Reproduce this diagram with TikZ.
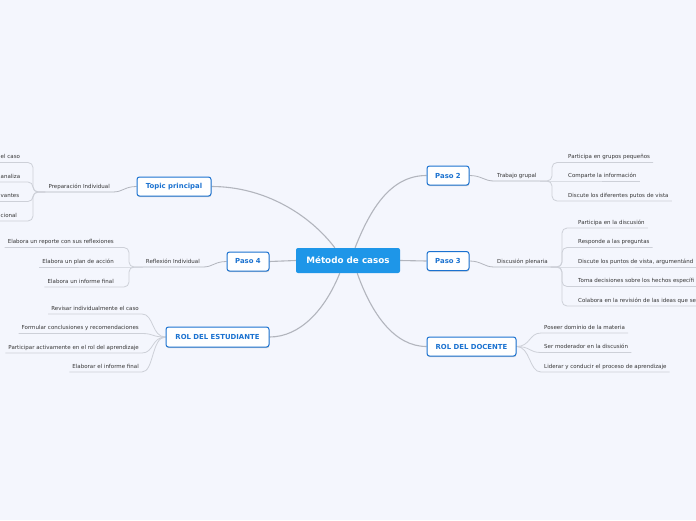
\documentclass[tikz,border=0pt]{standalone}
\usepackage{fontspec}
\setmainfont{DejaVu Sans}
\usetikzlibrary{shadows}
\pgfdeclarelayer{background}
\pgfsetlayers{background,main}
\definecolor{bg}{HTML}{F4F6FD}
\definecolor{cblue}{HTML}{1E96E8}
\definecolor{nblue}{HTML}{1B72D0}
\definecolor{conn}{HTML}{B2B5BD}
\definecolor{uline}{HTML}{CDD0D8}
\definecolor{ltext}{HTML}{363636}
\begin{document}
\begin{tikzpicture}[x=1pt,y=-1pt,
 central/.style={fill=cblue, rounded corners=2pt, text=white, font=\fontsize{8.8}{10}\selectfont\bfseries, minimum width=104pt, minimum height=25pt, inner sep=0pt},
 mainnode/.style={fill=white, draw=nblue, line width=1pt, rounded corners=2.5pt, text=nblue, font=\fontsize{6.9}{8}\selectfont\bfseries, minimum height=19pt, inner sep=0pt, drop shadow={shadow xshift=0.3pt, shadow yshift=-1.2pt, fill=black!40, opacity=0.45}},
 leaf/.style={font=\fontsize{5.5}{6.5}\selectfont, text=ltext, inner xsep=3pt, inner ysep=2.5pt, text height=4.2pt, text depth=1.3pt},
 mconn/.style={draw=conn, line width=1.1pt},
 sconn/.style={draw=conn, line width=0.8pt},
 uconn/.style={draw=uline, line width=0.8pt, rounded corners=5pt},
 cconn/.style={draw=uline, line width=0.8pt},
]
\begin{pgfonlayer}{background}
\fill[bg] (0,0) rectangle (696,520);
\end{pgfonlayer}
\useasboundingbox (0,0) rectangle (696,520);

% central and main nodes
\node[central] (c) at (348,260.5) {Método de casos};
\node[mainnode, minimum width=74pt] (tp) at (174,186.5) {Topic principal};
\node[mainnode, minimum width=42pt] (p4) at (248,261.5) {Paso 4};
\node[mainnode, minimum width=103pt, minimum height=20pt] (est) at (217.5,337) {ROL DEL ESTUDIANTE};
\node[mainnode, minimum width=42pt] (p2) at (448,175.5) {Paso 2};
\node[mainnode, minimum width=42pt] (p3) at (448,261) {Paso 3};
\node[mainnode, minimum width=89pt] (doc) at (471.5,346.5) {ROL DEL DOCENTE};

% sub-branches
\node[leaf, anchor=south east] (pi) at (113,192) {Preparación Individual};
\node[leaf, anchor=south east] (ri) at (203,267) {Reflexión Individual};
\node[leaf, anchor=south west] (tg) at (494,181) {Trabajo grupal};
\node[leaf, anchor=south west] (dp) at (494,267) {Discusión plenaria};

\coordinate (J1) at (33,192);
\coordinate (J4) at (129,267);
\coordinate (J2) at (552,181);
\coordinate (J3) at (562,267);

% leaves: Preparación Individual (cut by the left edge in the picture)
\node[leaf, anchor=south west] (l11) at (-2.5,162.5) {el caso};
\node[leaf, anchor=south west] (l12) at (-2.5,182) {analiza};
\node[leaf, anchor=south west] (l13) at (-2.5,201.5) {vantes};
\node[leaf, anchor=south west] (l14) at (-2.5,221) {cional};

% leaves: Reflexión Individual
\node[leaf, anchor=south east] (l41) at (117,247.5) {Elabora un reporte con sus reflexiones};
\node[leaf, anchor=south east] (l42) at (117,267) {Elabora un plan de acción};
\node[leaf, anchor=south east] (l43) at (117,287) {Elabora un informe final};

% leaves: ROL DEL ESTUDIANTE
\node[leaf, anchor=south east] (le1) at (142,314) {Revisar individualmente el caso};
\node[leaf, anchor=south east] (le2) at (142,333.5) {Formular conclusiones y recomendaciones};
\node[leaf, anchor=south east] (le3) at (142,353) {Participar activamente en el rol del aprendizaje};
\node[leaf, anchor=south east] (le4) at (142,372) {Elaborar el informe final};

% leaves: Trabajo grupal
\node[leaf, anchor=south west] (l21) at (565,162.5) {Participa en grupos pequeños};
\node[leaf, anchor=south west] (l22) at (565,181) {Comparte la información};
\node[leaf, anchor=south west] (l23) at (565,201) {Discute los diferentes putos de vista};

% leaves: Discusión plenaria (cut by the right edge in the picture)
\node[leaf, anchor=south west] (l31) at (575,228) {Participa en la discusión};
\node[leaf, anchor=south west] (l32) at (575,247.5) {Responde a las preguntas};
\node[leaf, anchor=south west] (l33) at (575,267) {Discute los puntos de vista, argumentánd};
\node[leaf, anchor=south west] (l34) at (575,286.5) {Toma decisiones sobre los hechos específi};
\node[leaf, anchor=south west] (l35) at (575,306) {Colabora en la revisión de las ideas que se};

% leaves: ROL DEL DOCENTE
\node[leaf, anchor=south west] (ld1) at (541,333) {Poseer dominio de la materia};
\node[leaf, anchor=south west] (ld2) at (541,352.5) {Ser moderador en la discusión};
\node[leaf, anchor=south west] (ld3) at (541,372) {Liderar y conducir el proceso de aprendizaje};

\begin{pgfonlayer}{background}
% main connectors
\draw[mconn] (c.136) .. controls (310,215) and (265,186.5) .. (tp.east);
\draw[mconn] (c.61) .. controls (370,210) and (390,175.5) .. (p2.west);
\draw[mconn] (c.west) -- (p4.east);
\draw[mconn] (c.east) -- (p3.west);
\draw[mconn] (c.237) .. controls (325,310) and (300,337) .. (est.east);
\draw[mconn] (c.306) .. controls (372,315) and (395,346.5) .. (doc.west);

% main -> sub-branch
\draw[sconn] (tp.west) .. controls +(-12,0) and +(10,0) .. (pi.south east) -- (pi.south west);
\draw[sconn] (p4.west) .. controls +(-12,0) and +(10,0) .. (ri.south east) -- (ri.south west);
\draw[sconn] (p2.east) .. controls +(12,0) and +(-10,0) .. (tg.south west) -- (tg.south east);
\draw[sconn] (p3.east) .. controls +(12,0) and +(-10,0) .. (dp.south west) -- (dp.south east);

% Preparación Individual children
\draw[uconn] (pi.south west) -- (J1) |- (l11.south east) -- (l11.south west);
\draw[uconn] (pi.south west) -- (J1) |- (l12.south east) -- (l12.south west);
\draw[uconn] (pi.south west) -- (J1) |- (l13.south east) -- (l13.south west);
\draw[uconn] (pi.south west) -- (J1) |- (l14.south east) -- (l14.south west);

% Reflexión Individual children
\draw[uconn] (ri.south west) -- (J4) |- (l41.south east) -- (l41.south west);
\draw[cconn] (ri.south west) -- (l42.south east) -- (l42.south west);
\draw[uconn] (ri.south west) -- (J4) |- (l43.south east) -- (l43.south west);

% Trabajo grupal children
\draw[uconn] (tg.south east) -- (J2) |- (l21.south west) -- (l21.south east);
\draw[cconn] (tg.south east) -- (l22.south west) -- (l22.south east);
\draw[uconn] (tg.south east) -- (J2) |- (l23.south west) -- (l23.south east);

% Discusión plenaria children
\draw[uconn] (dp.south east) -- (J3) |- (l31.south west) -- (l31.south east);
\draw[uconn] (dp.south east) -- (J3) |- (l32.south west) -- (l32.south east);
\draw[cconn] (dp.south east) -- (l33.south west) -- (l33.south east);
\draw[uconn] (dp.south east) -- (J3) |- (l34.south west) -- (l34.south east);
\draw[uconn] (dp.south east) -- (J3) |- (l35.south west) -- (l35.south east);

% ROL DEL ESTUDIANTE children
\foreach \l in {le1,le2,le3,le4}
  \draw[cconn] (est.west) .. controls +(-14,0) and +(12,0) .. (\l.south east) -- (\l.south west);

% ROL DEL DOCENTE children
\foreach \l in {ld1,ld2,ld3}
  \draw[cconn] (doc.east) .. controls +(14,0) and +(-12,0) .. (\l.south west) -- (\l.south east);
\end{pgfonlayer}
\end{tikzpicture}
\end{document}
